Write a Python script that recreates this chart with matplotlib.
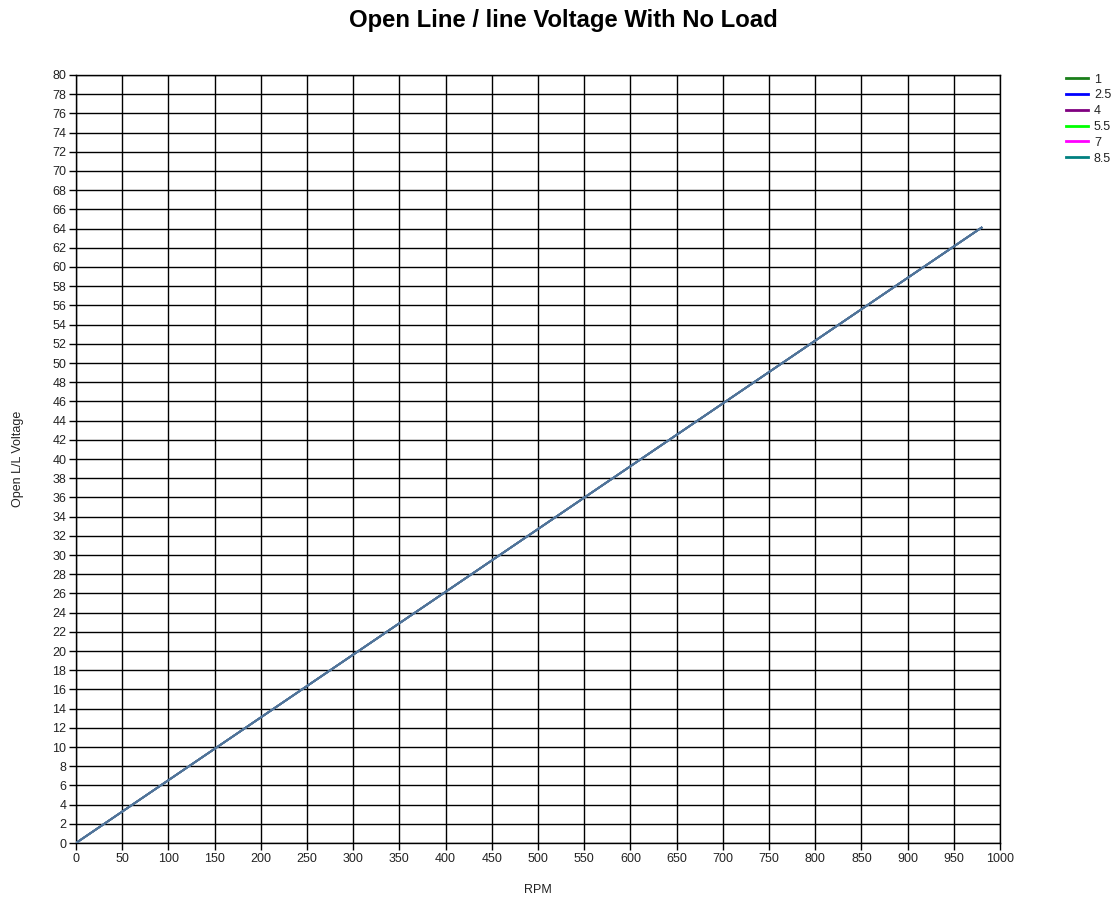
import matplotlib
matplotlib.use("Agg")
import matplotlib.pyplot as plt
from matplotlib.lines import Line2D

plt.rcParams['font.family'] = ['Liberation Sans', 'DejaVu Sans']

# Data
series_names = ["1", "2.5", "4", "5.5", "7", "8.5"]
series_colors = ["#1a7f1a", "#0000ff", "#800080", "#00ff00", "#ff00ff", "#008080"]
rpm = [0, 980]
voltage = {
    "1": [0, 64.1],
    "2.5": [0, 64.1],
    "4": [0, 64.1],
    "5.5": [0, 64.1],
    "7": [0, 64.1],
    "8.5": [0, 64.1],
}
x_ticks = list(range(0, 1001, 50))
y_ticks = list(range(0, 81, 2))

fig = plt.figure(figsize=(11.2, 8.99), dpi=100)
ax = fig.add_axes([76/1120, 1-843/899, 924/1120, 768/899])

visible_color = "#4f7399"
for name in series_names:
    ax.plot(rpm, voltage[name], color=visible_color, lw=1.3, zorder=3)

ax.set_xlim(0, 1000)
ax.set_ylim(0, 80)
ax.set_xticks(x_ticks)
ax.set_yticks(y_ticks)
ax.grid(True, color="#000000", lw=1.0)
ax.set_axisbelow(True)
for s in ax.spines.values():
    s.set_color("#000000")
    s.set_linewidth(1.0)
ax.tick_params(direction="out", length=5, width=1, colors="#000000",
               labelsize=9, labelcolor="#222222", pad=2)

ax.set_xlabel("RPM", fontsize=9, color="#222222", labelpad=14)
ax.set_ylabel("Open L/L Voltage", fontsize=9, color="#222222", labelpad=20)

fig.text(0.503, 1-20/899, "Open Line / line Voltage With No Load",
         ha="center", va="center", fontsize=17.2, fontweight="bold", color="#000000")

handles = [Line2D([0], [0], color=c, lw=2) for c in series_colors]
leg = fig.legend(handles, series_names, loc="upper left",
                 bbox_to_anchor=(1057/1120, 1-65/899), frameon=False,
                 fontsize=9, handlelength=1.75, handletextpad=0.5,
                 labelspacing=0.3, borderpad=0.2)
for t in leg.get_texts():
    t.set_color("#222222")

fig.savefig("out.png", dpi=100)
